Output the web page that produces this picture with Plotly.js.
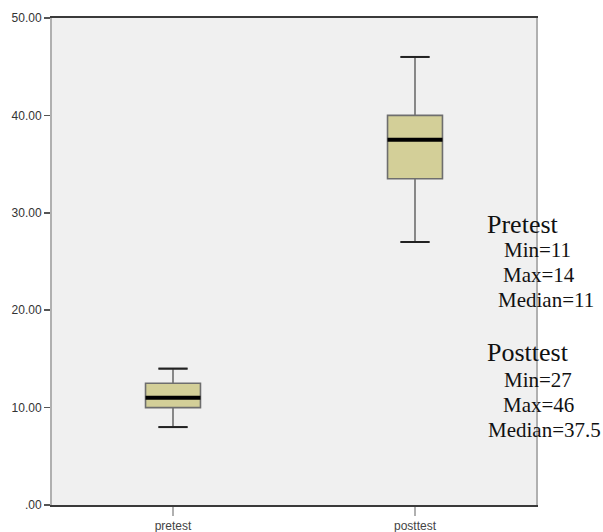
<!DOCTYPE html>
<html>
<head>
<meta charset="utf-8">
<script src="https://cdn.plot.ly/plotly-3.0.1.min.js"></script>
<style>html,body{margin:0;padding:0;background:#fff;}#chart{width:603px;height:532px;}</style>
</head>
<body>
<div id="chart"></div>
<script>
// ---- data ----
var categories = ["pretest", "posttest"];
var lowerFence = [8, 27];
var q1Values = [10, 33.5];
var medianValues = [11, 37.5];
var q3Values = [12.5, 40];
var upperFence = [14, 46];
var yTickVals = [0, 10, 20, 30, 40, 50];
var yTickText = [".00", "10.00", "20.00", "30.00", "40.00", "50.00"];
var noteHeaders = ["Pretest", "Posttest"];
var noteLines = [["Min=11", "Max=14", "Median=11"], ["Min=27", "Max=46", "Median=37.5"]];

// ---- layout constants ----
var W = 603, H = 532;
var M = {l: 52, r: 67, t: 18, b: 27};
var boxW = 0.227, whiskerW = 0.53;
var xIdx = categories.map(function(_, i){ return i; });

var medX = [], medY = [], capX = [], capY = [];
xIdx.forEach(function(i){
  medX.push(i - boxW/2, i + boxW/2, null);
  medY.push(medianValues[i], medianValues[i], null);
  var cw = boxW * whiskerW / 2;
  capX.push(i - cw, i + cw, null, i - cw, i + cw, null);
  capY.push(lowerFence[i], lowerFence[i], null, upperFence[i], upperFence[i], null);
});

var traces = [
  {
    type: "box",
    x: xIdx,
    q1: q1Values, median: medianValues, q3: q3Values,
    lowerfence: lowerFence, upperfence: upperFence,
    width: boxW, whiskerwidth: whiskerW,
    boxpoints: false,
    fillcolor: "#d3cf98",
    line: {color: "#6e6e6e", width: 1.6},
    hoverinfo: "skip", showlegend: false
  },
  {
    type: "scatter", mode: "lines", x: medX, y: medY,
    line: {color: "#000", width: 4}, hoverinfo: "skip", showlegend: false
  },
  {
    type: "scatter", mode: "lines", x: capX, y: capY,
    line: {color: "#222", width: 2}, hoverinfo: "skip", showlegend: false
  }
];

function px2paperX(px){ return (px - M.l) / (W - M.l - M.r); }
function px2paperY(py){ return (H - M.b - py) / (H - M.t - M.b); }

var annotations = [];
var headerPos = [{x: 485, y: 224}, {x: 485, y: 352}];
var linePos = [[{x: 502, y: 250}, {x: 501, y: 275}, {x: 496, y: 300}],
               [{x: 502, y: 380}, {x: 501, y: 405}, {x: 486, y: 430}]];
noteHeaders.forEach(function(h, k){
  annotations.push({
    text: h, xref: "paper", yref: "paper",
    x: px2paperX(headerPos[k].x), y: px2paperY(headerPos[k].y),
    xanchor: "left", yanchor: "middle", showarrow: false,
    font: {family: "Liberation Serif, Times New Roman, serif", size: 26, color: "#111"}
  });
  noteLines[k].forEach(function(t, j){
    annotations.push({
      text: t, xref: "paper", yref: "paper",
      x: px2paperX(linePos[k][j].x), y: px2paperY(linePos[k][j].y),
      xanchor: "left", yanchor: "middle", showarrow: false,
      font: {family: "Liberation Serif, Times New Roman, serif", size: 21, color: "#111"}
    });
  });
});

var layout = {
  width: W, height: H,
  margin: M,
  paper_bgcolor: "#ffffff",
  plot_bgcolor: "#f0f0f0",
  showlegend: false,
  xaxis: {
    type: "linear", range: [-0.5, 1.5],
    tickvals: xIdx, ticktext: categories,
    showgrid: false, zeroline: false,
    showline: true, linecolor: "#3a3a3a", linewidth: 2, mirror: true,
    ticks: "outside", ticklen: 9, tickwidth: 2, tickcolor: "#b0b0b0",
    tickfont: {family: "Liberation Sans, Arial, sans-serif", size: 12, color: "#444"}
  },
  yaxis: {
    range: [0, 50],
    tickvals: yTickVals, ticktext: yTickText,
    showgrid: false, zeroline: false,
    showline: true, linecolor: "#b0b0b0", linewidth: 2, mirror: true,
    ticks: "outside", ticklen: 6, tickwidth: 1.5, tickcolor: "#555",
    tickfont: {family: "Liberation Sans, Arial, sans-serif", size: 12, color: "#333"}
  },
  annotations: annotations
};

Plotly.newPlot("chart", traces, layout, {displayModeBar: false, staticPlot: true});
</script>
</body>
</html>
